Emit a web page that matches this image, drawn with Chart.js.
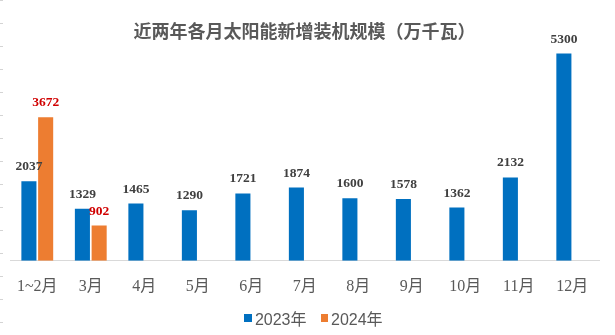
<!DOCTYPE html>
<html>
<head>
<meta charset="utf-8">
<script src="https://cdn.jsdelivr.net/npm/chart.js@4.4.1/dist/chart.umd.min.js"></script>
<style>
  html, body { margin: 0; padding: 0; background: #ffffff; }
  #wrap { position: relative; width: 615px; height: 335px; overflow: hidden; }
  #edge { position: absolute; left: 0; top: 0; width: 3px; height: 335px;
          background: repeating-linear-gradient(to bottom, #d4d4d4 0px, #d4d4d4 1px, transparent 1px, transparent 23px); }
  #legend { position: absolute; left: 0; top: 306px; width: 615px; display: flex; justify-content: center;
            padding-left: 12px; box-sizing: border-box;
            font-family: "Liberation Sans", "Noto Sans CJK SC", sans-serif; font-size: 16px; color: #595959; }
  .item { display: flex; align-items: center; margin: 0 7px; }
  .sw { width: 7.5px; height: 7.5px; margin-right: 3px; }
</style>
</head>
<body>
<div id="wrap">
  <canvas id="c" width="615" height="335"></canvas>
  <div id="edge"></div>
  <div id="legend"></div>
</div>
<script>
const categories = ["1~2月", "3月", "4月", "5月", "6月", "7月", "8月", "9月", "10月", "11月", "12月"];
const values2023 = [2037, 1329, 1465, 1290, 1721, 1874, 1600, 1578, 1362, 2132, 5300];
const values2024 = [3672, 902, null, null, null, null, null, null, null, null, null];
const seriesNames = ["2023年", "2024年"];
const chartTitle = "近两年各月太阳能新增装机规模（万千瓦）";

const colors = ["#0070C0", "#ED7D31"];
const labelColors = ["#404040", "#D00000"];

const valueLabels = {
  id: "valueLabels",
  afterDatasetsDraw(chart) {
    const ctx = chart.ctx;
    ctx.save();
    ctx.font = "bold 13.5px 'Liberation Serif', serif";
    ctx.textAlign = "center";
    ctx.textBaseline = "alphabetic";
    chart.data.datasets.forEach((ds, di) => {
      const meta = chart.getDatasetMeta(di);
      meta.data.forEach((el, i) => {
        const v = ds.data[i];
        if (v === null || v === undefined) return;
        ctx.fillStyle = labelColors[di];
        ctx.fillText(String(v), el.x, el.y - 11);
      });
    });
    ctx.restore();
  }
};

new Chart(document.getElementById("c"), {
  type: "bar",
  data: {
    labels: categories,
    datasets: [
      { label: seriesNames[0], data: values2023, backgroundColor: colors[0] },
      { label: seriesNames[1], data: values2024, backgroundColor: colors[1] }
    ]
  },
  options: {
    responsive: false,
    animation: false,
    events: [],
    categoryPercentage: 0.626,
    barPercentage: 0.9,
    layout: { padding: { left: 10, right: 16, top: 20, bottom: 22 } },
    plugins: {
      legend: { display: false },
      tooltip: { enabled: false },
      title: {
        display: true,
        text: chartTitle,
        color: "#595959",
        font: { family: "'Noto Sans CJK SC', sans-serif", size: 18, weight: "bold" },
        padding: { top: 0, bottom: 8 }
      }
    },
    scales: {
      x: {
        grid: { display: false, drawTicks: false },
        border: { display: true, color: "#D9D9D9", width: 1 },
        ticks: {
          color: "#595959",
          padding: 16.5,
          font: { family: "'Liberation Serif', 'Noto Sans CJK SC', serif", size: 16 }
        }
      },
      y: {
        display: false,
        min: 0,
        max: 5400
      }
    }
  },
  plugins: [valueLabels]
});

const lg = document.getElementById("legend");
seriesNames.forEach((name, i) => {
  const item = document.createElement("div");
  item.className = "item";
  const sw = document.createElement("span");
  sw.className = "sw";
  sw.style.background = colors[i];
  const tx = document.createElement("span");
  tx.textContent = name;
  item.appendChild(sw);
  item.appendChild(tx);
  lg.appendChild(item);
});
</script>
</body>
</html>
